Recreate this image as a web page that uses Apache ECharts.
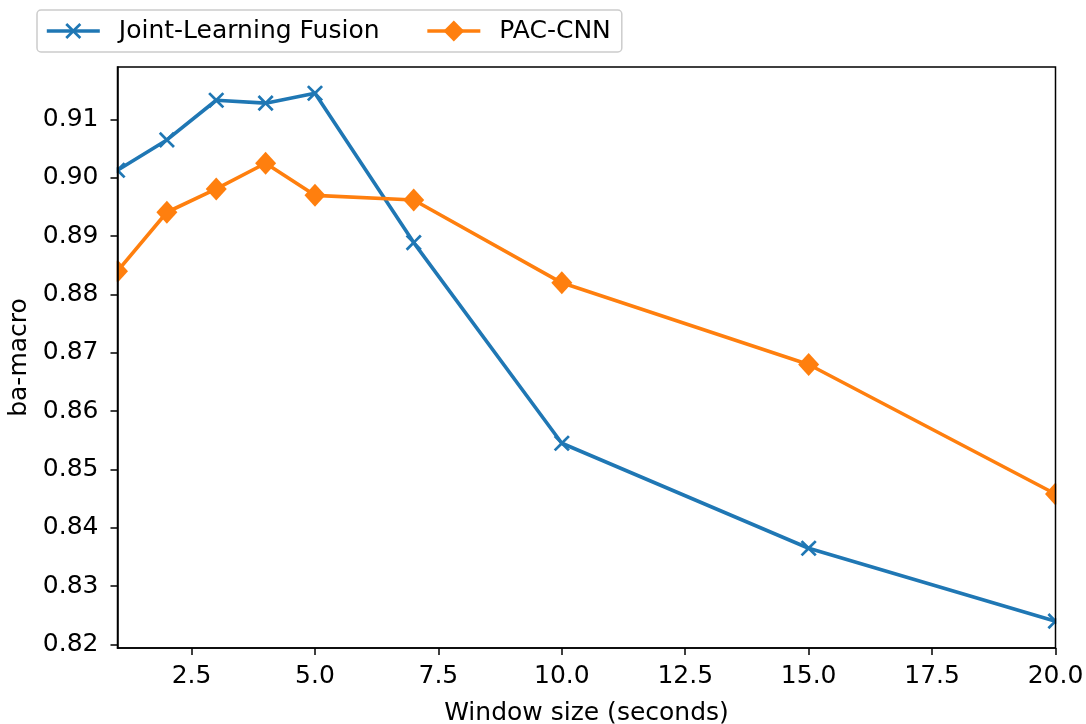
<!DOCTYPE html>
<html>
<head>
<meta charset="utf-8">
<script src="https://cdn.jsdelivr.net/npm/echarts@6/dist/echarts.min.js"></script>
<style>
  html, body { margin: 0; padding: 0; background: #fff; }
  #chart { width: 1086px; height: 724px; }
</style>
</head>
<body>
<div id="chart"></div>
<script>
// Window sizes (seconds) and balanced-accuracy (macro) per model
const windowSizes = [1, 2, 3, 4, 5, 7, 10, 15, 20];
const jointLearningFusion = [0.9013, 0.9065, 0.9133, 0.9128, 0.9145, 0.8889, 0.8545, 0.8365, 0.8240];
const pacCnn = [0.8840, 0.8941, 0.8981, 0.9025, 0.8970, 0.8962, 0.8820, 0.8680, 0.8458];

const xTicks = [2.5, 5, 7.5, 10, 12.5, 15, 17.5, 20];
const yTicks = [0.82, 0.83, 0.84, 0.85, 0.86, 0.87, 0.88, 0.89, 0.90, 0.91];

const FONT = 'DejaVu Sans';
const FS = 25;
const BLUE = '#1f77b4';
const ORANGE = '#ff7f0e';

// "x" marker: a filled cross, with two empty corner points that widen the
// path's bounding box so the cross keeps a margin inside its symbol box
const crossPath = 'path://M-1.5,-1.5 L-1.5,-1.5 Z M11.5,11.5 L11.5,11.5 Z ' +
  'M0,1.2 L1.2,0 L5,3.8 L8.8,0 L10,1.2 L6.2,5 L10,8.8 L8.8,10 L5,6.2 L1.2,10 L0,8.8 L3.8,5 Z';

const pairs = (ys) => windowSizes.map((x, i) => [x, ys[i]]);

const GL = 117.5, GR = 30.5, GT = 67, GB = 76;

const chart = echarts.init(document.getElementById('chart'), null, { renderer: 'canvas' });

const axisCommon = {
  axisLine: { show: true, onZero: false, lineStyle: { color: '#000', width: 1.5 } },
  axisTick: { show: true, inside: false, length: 7, lineStyle: { color: '#000', width: 1.5 } },
  splitLine: { show: false },
  nameTextStyle: { fontFamily: FONT, fontSize: FS, color: '#000' },
  z: 10
};

chart.setOption({
  animation: false,
  backgroundColor: '#fff',
  grid: {
    left: GL, right: GR, top: GT, bottom: GB,
    containLabel: false,
    outerBoundsMode: 'none',
    show: true, borderColor: '#000', borderWidth: 1.5, backgroundColor: 'transparent', z: 10
  },
  legend: {
    left: 37, top: 10,
    orient: 'horizontal',
    padding: [8.5, 11, 8.5, 8],
    itemGap: 46,
    itemWidth: 53, itemHeight: 26,
    borderColor: '#cccccc', borderWidth: 1.5, borderRadius: 4,
    backgroundColor: 'rgba(255,255,255,0.8)',
    lineStyle: { width: 3.6 },
    textStyle: { fontFamily: FONT, fontSize: FS, color: '#000', padding: [0, 0, 0, 14] },
    data: ['Joint-Learning Fusion', 'PAC-CNN']
  },
  xAxis: Object.assign({}, axisCommon, {
    type: 'value',
    min: 1, max: 20,
    name: 'Window size (seconds)',
    nameLocation: 'middle',
    nameGap: 53,
    axisTick: Object.assign({}, axisCommon.axisTick, { customValues: xTicks }),
    axisLabel: {
      customValues: xTicks,
      fontFamily: FONT, fontSize: FS, color: '#000', margin: 16,
      formatter: (v) => v.toFixed(1)
    }
  }),
  yAxis: Object.assign({}, axisCommon, {
    type: 'value',
    min: 0.8194, max: 0.9190,
    name: 'ba-macro',
    nameLocation: 'middle',
    nameGap: 80,
    nameRotate: 90,
    axisTick: Object.assign({}, axisCommon.axisTick, { customValues: yTicks }),
    axisLabel: {
      customValues: yTicks,
      fontFamily: FONT, fontSize: FS, color: '#000', margin: 19,
      formatter: (v) => v.toFixed(2)
    }
  }),
  // White strips outside the plot frame so edge markers appear cut by the axes
  graphic: [
    { type: 'rect', z: 5, shape: { x: 60, y: 55, width: GL - 60 - 0.8, height: 724 - GB - 55 + 6 }, style: { fill: '#fff' }, silent: true },
    { type: 'rect', z: 5, shape: { x: 1086 - GR + 0.8, y: 55, width: GR, height: 724 - GB - 55 + 6 }, style: { fill: '#fff' }, silent: true }
  ],
  series: [
    {
      name: 'Joint-Learning Fusion',
      type: 'line',
      data: pairs(jointLearningFusion),
      color: BLUE,
      lineStyle: { width: 3.6, color: BLUE },
      symbol: crossPath,
      symbolSize: 21,
      showAllSymbol: true,
      itemStyle: { color: BLUE, borderWidth: 0 },
      clip: false,
      z: 2
    },
    {
      name: 'PAC-CNN',
      type: 'line',
      data: pairs(pacCnn),
      color: ORANGE,
      lineStyle: { width: 3.6, color: ORANGE },
      symbol: 'diamond',
      symbolSize: [21, 23],
      showAllSymbol: true,
      itemStyle: { color: ORANGE, borderWidth: 0 },
      clip: false,
      z: 3
    }
  ]
});
</script>
</body>
</html>
